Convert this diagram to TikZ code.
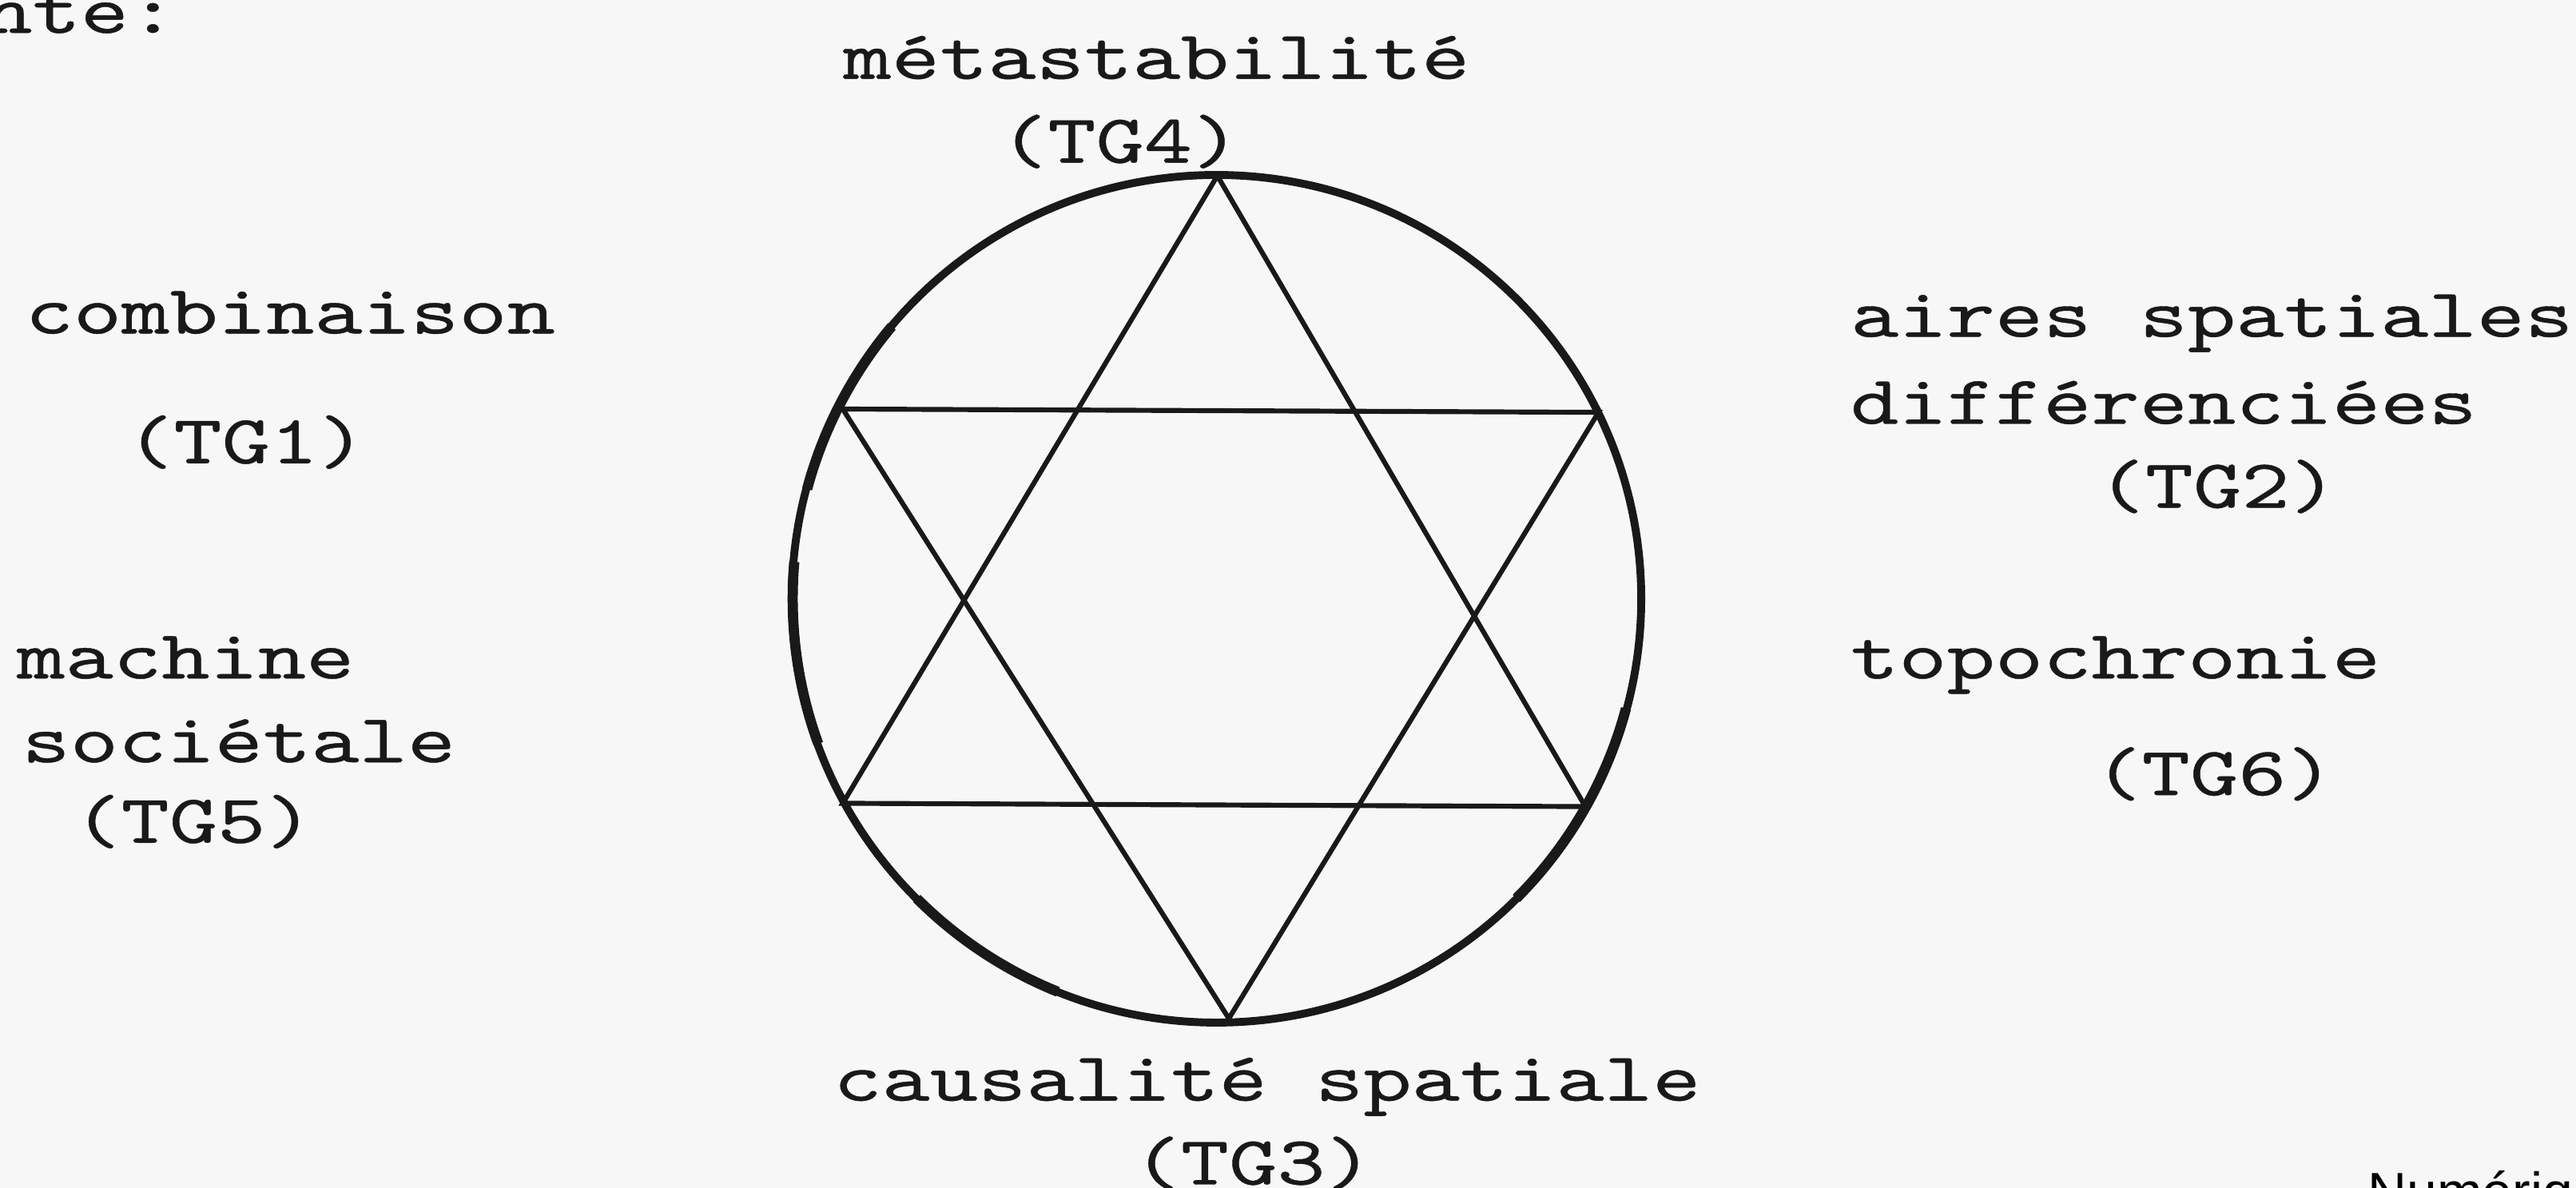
\documentclass[tikz,border=0pt]{standalone}
\usepackage{fontspec}
\newfontfamily\tw[FakeStretch=1.33,FakeBold=0.5]{lmmono10-regular.otf}
\newfontfamily\wmfont{Liberation Sans}
\begin{document}
\begin{tikzpicture}[x=0.5pt,y=-0.5pt,
  lbl/.style={font=\tw\fontsize{21}{26}\selectfont, inner sep=0pt, anchor=base west, text=black!90},
  rim/.style={line width=2.4pt, black!90},
  rimthick/.style={line width=3.1pt, black!90, line cap=butt},
  edge/.style={line width=1.5pt, black!90, line join=miter}]
\useasboundingbox (0,0) rectangle (1568,723);
\fill[black!3] (0,0) rectangle (1568,723);
% circle
\coordinate (C) at (740.5,364.5);
\draw[rim] (C) ellipse [x radius=258.5, y radius=258];
% heavier stretches of the hand-drawn rim
\draw[rimthick] (C) ++(-165:258) arc[start angle=-165, end angle=-140, x radius=258, y radius=258];
\draw[rimthick] (C) ++(160:258) arc[start angle=160, end angle=185, x radius=258, y radius=258];
\draw[rimthick] (C) ++(15:258) arc[start angle=15, end angle=45, x radius=258, y radius=258];
\draw[rimthick] (C) ++(112:258) arc[start angle=112, end angle=135, x radius=258, y radius=258];
% hexagram vertices
\coordinate (T)  at (741,107);
\coordinate (B)  at (748,620);
\coordinate (UL) at (513,249);
\coordinate (UR) at (973,251);
\coordinate (LL) at (513,489);
\coordinate (LR) at (965,491);
\draw[edge] (T) -- (LL) -- (LR) -- cycle;
\draw[edge] (B) -- (UL) -- (UR) -- cycle;
% labels
\node[lbl] (nte) at (-10,20) {nte:};
\node[lbl] (tg4a) at (513,48) {métastabilité};
\node[lbl] (tg4b) at (608,99) {(TG4)};
\node[lbl] (tg1a) at (15,203) {combinaison};
\node[lbl] (tg1b) at (76,282) {(TG1)};
\node[lbl] (tg5a) at (10,413) {machine};
\node[lbl] (tg5b) at (13,464) {sociétale};
\node[lbl] (tg5c) at (44,513) {(TG5)};
\node[lbl] (tg2a) at (1126,205) {aires spatiales};
\node[lbl] (tg2b) at (1126,258) {différenciées};
\node[lbl] (tg2c) at (1276,309) {(TG2)};
\node[lbl] (tg6a) at (1126,413) {topochronie};
\node[lbl] (tg6b) at (1274,484) {(TG6)};
\node[lbl] (tg3a) at (507,670) {causalité spatiale};
\node[lbl] (tg3b) at (689,721) {(TG3)};
\node[font=\wmfont\fontsize{16.5}{18}\selectfont, anchor=base west, inner sep=0pt] (wm) at (1441,737) {Numérique};
\end{tikzpicture}
\end{document}
